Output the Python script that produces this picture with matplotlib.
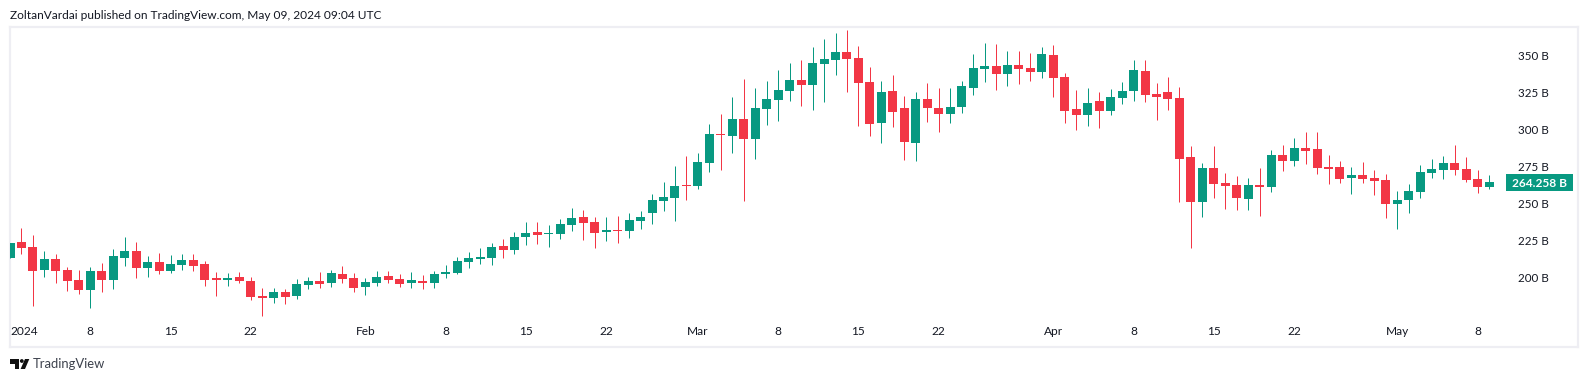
import matplotlib
matplotlib.use("Agg")
import matplotlib.pyplot as plt
from matplotlib.patches import Rectangle, Polygon, Circle
from matplotlib.transforms import blended_transform_factory
import numpy as np
import pandas as pd

plt.rcParams['font.family'] = ['Lato', 'DejaVu Sans']

start_date = "2024-01-01"
opens = [213.3,224.1,220.7,205.2,212.6,205.2,198.5,191.7,204.5,198.5,213.3,218.0,206.5,210.6,204.5,208.6,211.9,209.2,199.8,198.5,
         200.5,197.8,187.7,186.3,190.4,187.7,195.1,197.8,196.4,202.5,199.8,193.8,196.4,201.2,199.1,196.4,197.8,196.4,202.5,203.2,
         210.6,212.6,213.3,221.4,218.7,227.4,230.8,229.4,229.4,235.5,240.9,237.5,230.8,232.2,231.5,238.2,243.6,251.7,253.7,262.5,
         261.8,277.3,296.8,295.5,306.9,293.5,313.7,319.8,325.8,333.2,329.9,344.0,346.7,352.1,348.0,331.9,304.2,325.8,314.4,290.8,
         320.4,314.4,310.3,315.0,327.8,340.6,342.6,337.3,343.3,341.3,338.6,350.1,335.2,313.7,309.6,319.1,312.3,321.1,325.8,339.3,
         323.8,325.1,321.1,281.3,251.0,273.9,263.8,262.5,253.0,262.5,261.1,282.7,278.6,287.4,286.7,274.6,274.6,267.2,269.2,267.2,
         265.8,249.7,252.4,257.7,270.5,272.6,277.3,273.2,266.5,261.1]
highs = [223.4,233.5,228.8,218.0,216.0,207.2,205.2,207.2,209.9,219.3,227.4,224.1,214.6,216.7,215.3,216.0,216.0,211.3,203.9,203.2,
         203.9,200.5,193.1,193.1,192.4,199.1,200.5,203.9,205.2,207.9,203.2,199.8,204.5,204.5,202.5,203.9,201.8,204.5,208.6,214.0,
         217.3,220.0,223.4,226.1,230.8,237.5,237.5,235.5,239.6,247.0,245.6,240.9,240.9,241.6,243.6,245.0,256.4,264.5,275.3,282.0,
         284.0,303.6,310.3,321.8,333.9,327.8,332.5,340.0,344.7,346.7,355.5,360.9,364.9,366.9,356.1,342.0,332.5,336.6,322.5,325.1,
         331.2,327.8,327.8,332.5,350.7,358.2,357.5,352.8,352.8,351.4,355.5,356.8,338.0,326.5,327.8,325.1,327.2,331.9,346.7,346.7,
         331.2,335.2,328.5,288.7,277.3,288.7,270.6,268.5,267.2,273.9,286.0,289.4,294.1,298.2,298.2,282.7,278.6,274.6,278.0,272.6,
         269.9,258.4,263.1,275.9,280.0,282.0,289.4,281.3,272.6,269.2]
lows = [213.3,216.0,180.9,200.5,196.4,191.1,189.0,179.6,190.4,192.4,207.9,199.8,200.5,202.5,203.2,205.2,204.5,194.4,187.7,194.4,
        196.4,185.0,174.2,183.0,182.3,185.7,192.4,193.1,193.8,196.4,190.4,188.4,194.4,196.4,193.8,193.1,192.4,193.1,199.8,202.5,
        206.5,209.2,208.6,213.3,216.0,222.0,222.7,220.7,226.1,231.5,225.4,220.0,224.7,223.4,226.8,232.8,236.2,245.0,238.2,252.4,
        259.8,271.2,272.6,284.0,251.7,280.0,302.9,305.6,319.1,315.7,313.0,318.4,336.6,325.1,302.2,295.5,290.8,301.6,279.3,278.6,
        304.9,298.2,304.2,311.0,323.1,331.9,326.5,329.2,330.5,332.5,334.6,321.8,304.2,299.5,302.2,300.9,309.6,317.0,319.1,318.4,
        306.3,313.0,251.0,220.0,240.9,253.7,246.3,245.6,245.6,241.6,257.8,271.9,275.3,276.6,269.9,263.1,263.8,256.4,263.8,255.7,
        240.2,232.8,243.6,253.7,267.2,266.5,269.2,264.5,257.1,259.8]
closes = [223.4,220.0,204.5,212.6,204.5,197.8,191.7,204.5,198.5,214.6,218.0,206.5,210.6,204.5,209.2,211.9,207.9,198.5,198.5,199.8,
          197.8,187.0,186.3,190.4,187.0,195.8,197.8,195.8,203.2,199.1,193.1,197.1,200.5,198.5,195.8,198.5,196.4,202.5,203.9,211.3,
          213.3,214.0,220.7,218.7,227.4,230.1,228.8,230.1,236.2,240.2,236.9,230.1,232.2,231.5,238.9,240.9,252.4,254.4,261.8,261.8,
          278.0,296.8,296.2,306.9,293.5,314.4,320.4,326.5,333.2,329.9,344.7,347.4,352.1,347.4,331.2,303.6,325.1,311.6,291.5,320.4,
          314.4,310.3,315.0,329.2,341.3,342.6,337.3,343.3,340.6,338.6,350.7,334.6,312.3,309.6,317.7,312.3,321.8,325.8,340.0,323.1,
          321.8,320.4,280.0,251.0,273.9,263.1,261.8,253.7,262.5,261.1,282.7,278.6,287.4,285.4,273.9,273.2,266.5,269.2,266.5,265.2,
          249.7,252.4,258.4,271.2,273.2,277.3,272.6,265.8,261.1,264.258]

price_ticks = [200, 225, 250, 275, 300, 325, 350]
date_ticks = ["2024-01-01","2024-01-08","2024-01-15","2024-01-22","2024-02-01","2024-02-08","2024-02-15","2024-02-22",
              "2024-03-01","2024-03-08","2024-03-15","2024-03-22","2024-04-01","2024-04-08","2024-04-15","2024-04-22",
              "2024-05-01","2024-05-08"]
date_labels = ["2024","8","15","22","Feb","8","15","22","Mar","8","15","22","Apr","8","15","22","May","8"]
last_price_label = "264.258 B"
header = "ZoltanVardai published on TradingView.com, May 09, 2024 09:04 UTC"
brand = "TradingView"

UP = "#089981"
DOWN = "#F23645"
BORDER = "#EEEEF3"
TEXT = "#131722"

W, H, DPI = 1588, 382, 100
fig = plt.figure(figsize=(W / DPI, H / DPI), dpi=DPI, facecolor="white")
L, R, T, B = 10, 1578, 27, 347
ax = fig.add_axes([L / W, 1 - B / H, (R - L) / W, (B - T) / H])

o, h, l, c = map(np.array, (opens, highs, lows, closes))
dates = pd.date_range(start_date, periods=len(o))
x = np.arange(len(o))
colors = np.where(c >= o, UP, DOWN)

ax.vlines(x, l, h, colors=colors, linewidth=0.72, zorder=3, snap=True)
body_bottom = np.minimum(o, c)
body_height = np.maximum(np.abs(c - o), 0.7)
ax.bar(x, body_height, bottom=body_bottom, width=0.785, color=colors, linewidth=0, zorder=4)

ax.set_xlim(0.13, 136.76)
ax.set_ylim(153.3, 368.9)

tick_x = [dates.get_loc(pd.Timestamp(d)) for d in date_ticks]
ax.set_xticks(tick_x, date_labels)
ax.tick_params(axis="x", length=0, pad=-15, labelsize=8.6, colors=TEXT)
ax.get_xticklabels()[0].set_horizontalalignment("left")
ax.yaxis.tick_right()
ax.set_yticks(price_ticks, [f"{v} B" for v in price_ticks])
ax.tick_params(axis="y", length=0, pad=-43.5, labelsize=8.4, colors=TEXT)
for lab in ax.get_yticklabels():
    lab.set_horizontalalignment("left")

for s in ax.spines.values():
    s.set_color(BORDER)
    s.set_linewidth(1.6)

# last-price tag on the axis
trans = blended_transform_factory(ax.transAxes, ax.transData)
ax.add_patch(Rectangle(((1506 - L) / (R - L), closes[-1] - 5.6), 66.7 / (R - L), 11.2,
                       transform=trans, facecolor=UP, edgecolor="none", zorder=5, clip_on=False))
ax.text((1539.3 - L) / (R - L), closes[-1], last_price_label, transform=trans, color="white",
        fontsize=8.6, fontweight="bold", ha="center", va="center_baseline", zorder=6)

# overlay in pixel coordinates for header and footer
ov = fig.add_axes([0, 0, 1, 1], facecolor="none")
ov.set_xlim(0, W)
ov.set_ylim(H, 0)
ov.axis("off")
ov.text(10, 15.5, header, fontsize=8.55, color=TEXT, ha="left", va="center")
ov.text(33, 364.5, brand, fontsize=9.4, color="#3d424d", ha="left", va="center")
ov.add_patch(Polygon([(10, 359), (19, 359), (19, 369), (14.5, 369), (14.5, 364), (10, 364)], fc="#111111", ec="none"))
ov.add_patch(Circle((21.8, 361), 1.9, fc="#111111", ec="none"))
ov.add_patch(Polygon([(25, 359), (29.3, 359), (25, 369), (20.6, 369)], fc="#111111", ec="none"))

fig.savefig("out.png", dpi=DPI, facecolor="white")
